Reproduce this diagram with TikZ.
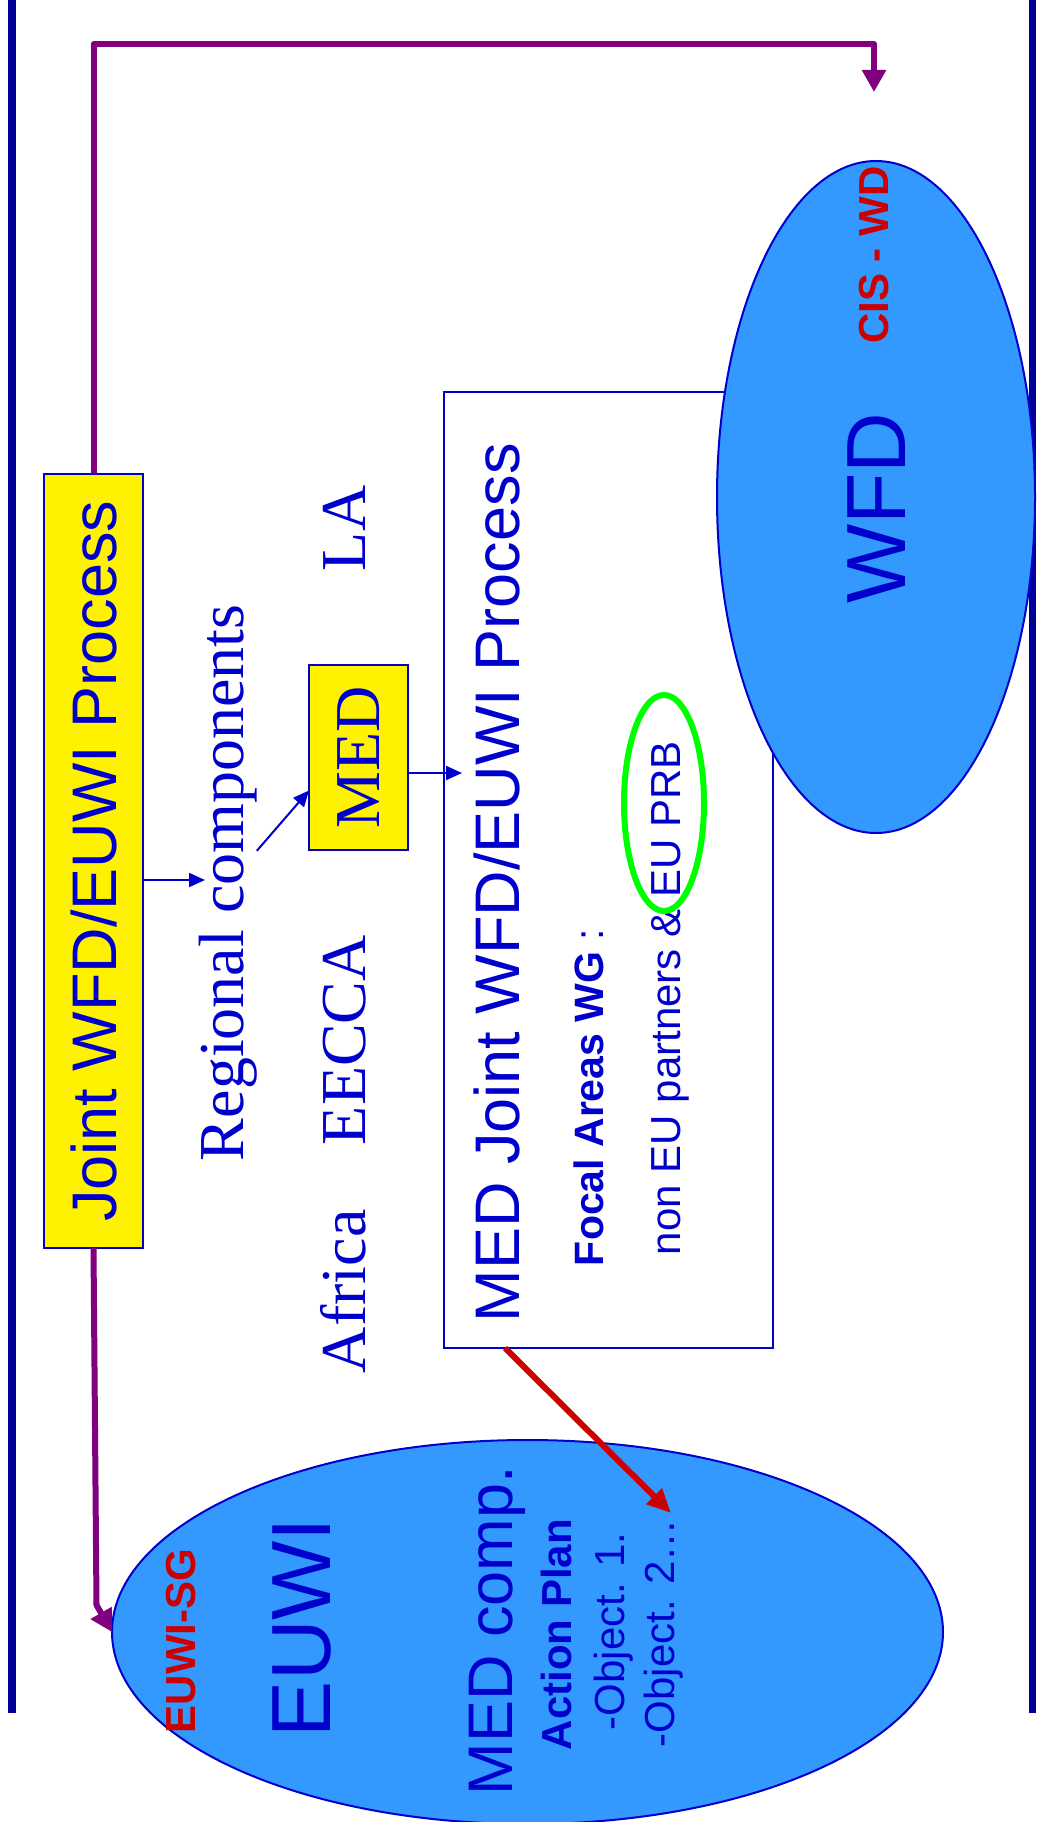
\documentclass[tikz,border=0pt]{standalone}
\usepackage{fontspec}
\setmainfont{Liberation Serif}
\setsansfont{Liberation Sans}
\usetikzlibrary{positioning}
\usetikzlibrary{arrows.meta}
\usetikzlibrary{shapes}

\definecolor{slideblue}{HTML}{0000CC}
\definecolor{barblue}{HTML}{000099}
\definecolor{skyfill}{HTML}{3399FF}
\definecolor{linkpurple}{HTML}{800080}
\definecolor{alertred}{HTML}{CC0000}
\definecolor{ringgreen}{HTML}{00FF00}

\newcommand{\fs}[1]{\fontsize{#1}{#1}\selectfont}

\begin{document}
\begin{tikzpicture}[x=1pt,y=-1pt]
\useasboundingbox (0,0) rectangle (1036,1822);
            \begin{scope}[%
                every node/.style={
                inner sep=0,
                outer sep=0,
                text=slideblue,
            },
            txt/.style={rotate=90, anchor=base west},
            box/.style={draw=slideblue, line width=2pt},
            bluearr/.style={draw=slideblue, line width=2pt, -{Triangle[length=16pt,width=14pt]}},
            purplearr/.style={draw=linkpurple, line width=6pt, line join=round, -{Triangle[length=22pt,width=23pt]}},
            redarr/.style={draw=alertred, line width=6pt, -{Triangle[length=24pt,width=21pt]}},
            ]
    % side bars
    \fill[barblue] (8,0) rectangle (16,1713);
    \fill[barblue] (1029,0) rectangle (1036,1713);

    \node[box, fill=yellow, minimum width=99pt, minimum height=774pt] (JP) at (93.5,861)
        {\rotatebox{90}{\sffamily\fs{63}Joint WFD/EUWI Process}};
    \node[box, fill=yellow, minimum width=99pt, minimum height=185pt] (MED) at (358.5,757.5)
        {\rotatebox{90}{\fs{64}MED}};
    \node[box, fill=white, minimum width=329pt, minimum height=956pt] (MJ) at (608.5,870) {};
    \node[box, ellipse, fill=skyfill, minimum width=318pt, minimum height=672pt] (WFD) at (876,497) {};
    \node[box, ellipse, fill=skyfill, minimum width=831pt, minimum height=384pt] (EUWI) at (527.5,1632) {};

    \node[txt, font=\fs{64}] (RC) at (243,1161) {Regional components};
    \node[txt, font=\fs{64}] (AF) at (365,1373) {Africa};
    \node[txt, font=\fs{64}] (EE) at (365,1145) {EECCA};
    \node[txt, font=\fs{64}] (LA) at (365,571) {LA};

    \node[txt, font=\sffamily\fs{63}] (MJT) at (519,1322) {MED Joint WFD/EUWI Process};
    \node[txt, font=\sffamily\fs{41}] (FA) at (603,1266) {{\bfseries Focal Areas WG} :};
    \node[txt, font=\sffamily\fs{42}] (NP) at (680,1255) {non EU partners \& EU PRB};
    \node[ellipse, draw=ringgreen, line width=6pt, minimum width=80pt, minimum height=216pt] (PRB) at (664,803) {};

    \node[rotate=90, font=\sffamily\fs{84}] (WT) at (877,508) {WFD};
    \node[rotate=90, font=\sffamily\bfseries\fs{42}, text=alertred] (CIS) at (874,255) {CIS - WD};

    \node[txt, font=\sffamily\bfseries\fs{42}, text=alertred] (SG) at (195,1733) {EUWI-SG};
    \node[txt, font=\sffamily\fs{84}] (ET) at (330,1737) {EUWI};
    \node[txt, font=\sffamily\fs{63}] (MC) at (512,1795) {MED comp.};
    \node[txt, font=\sffamily\bfseries\fs{42}] (AP) at (571,1750) {Action Plan};
    \node[txt, font=\sffamily\fs{42}] (O1) at (624,1730) {-Object. 1.};
    \node[txt, font=\sffamily\fs{42}] (O2) at (674,1747) {-Object. 2…};

    \coordinate (RCin) at (205,880);
    \coordinate (MJin) at (462,773);
    \coordinate (WFDin) at (874,92);
    \coordinate (O2in) at (671,1513);

    \draw[bluearr] (JP.east |- RCin) -- (RCin);
    \draw[bluearr] ([yshift=32pt]RC.south) -- ([yshift=-33pt]MED.west);
    \draw[bluearr] (MED.east |- MJin) -- (MJin);
    \draw[purplearr] (JP.north) -- ++(0,-430) -| (WFDin);
    \draw[purplearr] (JP.south) -- ++(3,357) -- (EUWI.west);
    \draw[redarr] ([xshift=61pt]MJ.south west) -- (O2in);

  \end{scope}
\end{tikzpicture}
\end{document}
